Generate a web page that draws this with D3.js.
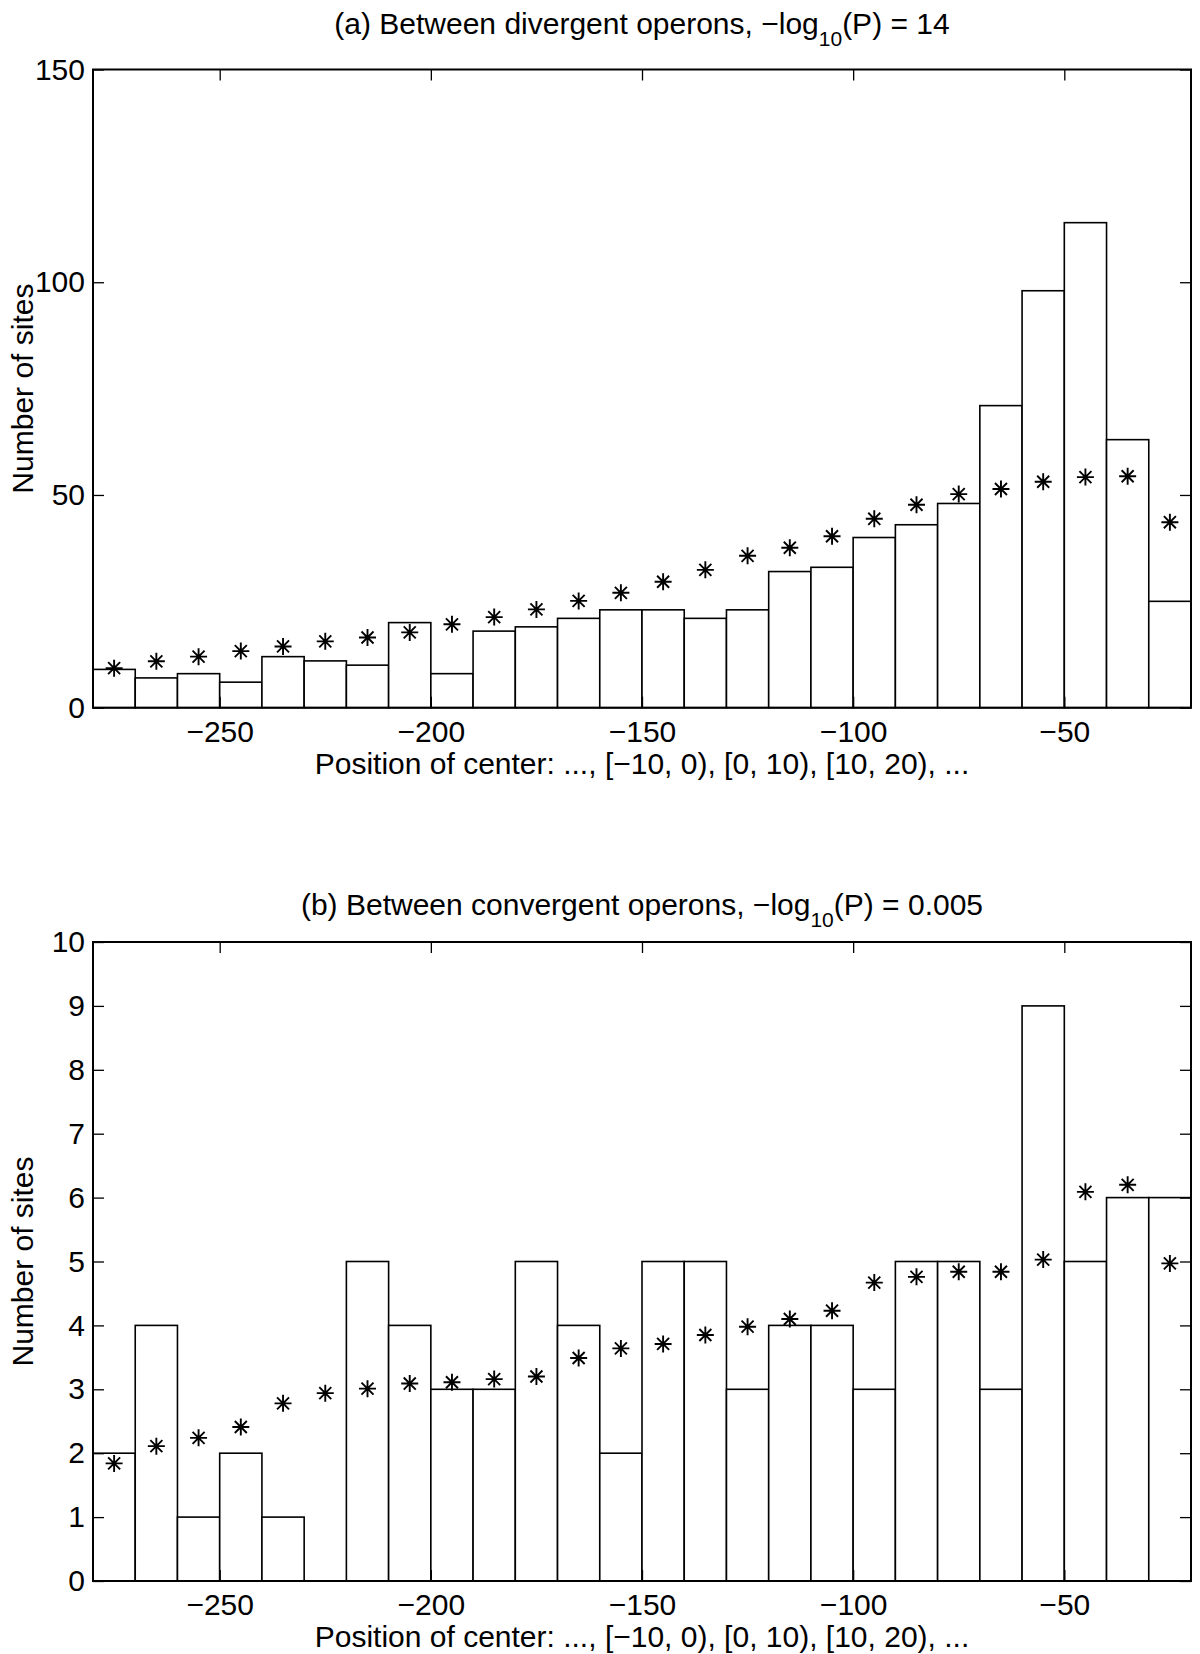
<!DOCTYPE html>
<html>
<head>
<meta charset="utf-8">
<script src="https://cdn.jsdelivr.net/npm/d3@7"></script>
<style>
  html, body { margin: 0; padding: 0; background: #fff; }
  svg { display: block; }
  text { font-family: "Liberation Sans", Arial, Helvetica, sans-serif; fill: #000; }
</style>
</head>
<body>
<svg id="chart" width="1200" height="1654"></svg>
<script>
// ---------------- data ----------------
const binStarts = [-280,-270,-260,-250,-240,-230,-220,-210,-200,-190,-180,-170,-160,-150,-140,-130,-120,-110,-100,-90,-80,-70,-60,-50,-40,-30];
const binWidth = 10;

const divergentCounts = [9,7,8,6,12,11,10,20,8,18,19,21,23,23,21,23,32,33,40,43,48,71,98,114,63,25];
const divergentExpected = [9.3,10.9,12.0,13.3,14.4,15.6,16.5,17.7,19.6,21.3,23.1,25.1,27.0,29.6,32.4,35.7,37.6,40.3,44.4,47.7,50.2,51.4,53.1,54.2,54.4,43.6];

const convergentCounts = [2,4,1,2,1,0,5,4,3,3,5,4,2,5,5,3,4,4,3,5,5,3,9,5,6,6];
const convergentExpected = [1.84,2.11,2.24,2.41,2.78,2.94,3.01,3.09,3.11,3.16,3.2,3.49,3.64,3.71,3.85,3.98,4.1,4.23,4.67,4.76,4.84,4.84,5.03,6.09,6.2,4.97];

const xTicks = [-250,-200,-150,-100,-50];
const yTicksA = [0,50,100,150];
const yTicksB = [0,1,2,3,4,5,6,7,8,9,10];

const titleA = {pre: "(a) Between divergent operons, \u2212log", sub: "10", post: "(P) = 14"};
const titleB = {pre: "(b) Between convergent operons, \u2212log", sub: "10", post: "(P) = 0.005"};
const xLabel = "Position of center: ..., [\u221210, 0), [0, 10), [10, 20), ...";
const yLabel = "Number of sites";

// ---------------- layout ----------------
const FS = 30;
const left = 93, right = 1191;
const panels = [
  {top: 69.5, bottom: 707.7, titleGap: 35.5, yMax: 150, yTicks: yTicksA, counts: divergentCounts, expected: divergentExpected, title: titleA},
  {top: 942, bottom: 1581, titleGap: 27, yMax: 10, yTicks: yTicksB, counts: convergentCounts, expected: convergentExpected, title: titleB}
];

const svg = d3.select("#chart");
const x = d3.scaleLinear().domain([-280, -20]).range([left, right]);

// asterisk marker path (MATLAB '*': + and x combined)
function starPath(r) {
  const d = r * Math.SQRT1_2;
  return `M0,${-r}L0,${r}M${-r},0L${r},0M${-d},${-d}L${d},${d}M${-d},${d}L${d},${-d}`;
}

panels.forEach(p => {
  const y = d3.scaleLinear().domain([0, p.yMax]).range([p.bottom, p.top]);
  const g = svg.append("g");

  const data = binStarts.map((s, i) => ({s, c: p.counts[i], e: p.expected[i]}));

  // bars
  g.selectAll("rect.bar").data(data).join("rect")
    .attr("class", "bar")
    .attr("x", d => x(d.s))
    .attr("width", d => x(d.s + binWidth) - x(d.s))
    .attr("y", d => y(d.c))
    .attr("height", d => y(0) - y(d.c))
    .attr("fill", "#fff")
    .attr("stroke", "#000")
    .attr("stroke-width", 1.6);

  // stars
  g.selectAll("path.star").data(data).join("path")
    .attr("class", "star")
    .attr("transform", d => `translate(${x(d.s + binWidth / 2)},${y(d.e)})`)
    .attr("d", starPath(8.5))
    .attr("fill", "none")
    .attr("stroke", "#000")
    .attr("stroke-width", 1.9);

  // axes (ticks inward, MATLAB style)
  const TL = 11;
  const bottomAxis = d3.axisBottom(x).tickValues(xTicks).tickSizeInner(-TL).tickSizeOuter(0).tickPadding(13);
  const topAxis = d3.axisTop(x).tickValues(xTicks).tickSizeInner(-TL).tickSizeOuter(0).tickFormat("");
  const leftAxis = d3.axisLeft(y).tickValues(p.yTicks).tickSizeInner(-TL).tickSizeOuter(0).tickPadding(8).tickFormat(d3.format("d"));
  const rightAxis = d3.axisRight(y).tickValues(p.yTicks).tickSizeInner(-TL).tickSizeOuter(0).tickFormat("");

  const axB = g.append("g").attr("transform", `translate(0,${p.bottom})`).call(bottomAxis);
  const axT = g.append("g").attr("transform", `translate(0,${p.top})`).call(topAxis);
  const axL = g.append("g").attr("transform", `translate(${left},0)`).call(leftAxis);
  const axR = g.append("g").attr("transform", `translate(${right},0)`).call(rightAxis);
  [axB, axT, axL, axR].forEach(a => {
    a.select(".domain").remove();
    a.selectAll("line").attr("stroke", "#000").attr("stroke-width", 1.3);
    a.selectAll("text").attr("font-size", FS).attr("font-family", "Liberation Sans, Arial, sans-serif").attr("fill", "#000");
  });

  // box
  g.append("rect")
    .attr("x", left).attr("y", p.top)
    .attr("width", right - left).attr("height", p.bottom - p.top)
    .attr("fill", "none").attr("stroke", "#000").attr("stroke-width", 2);

  // title
  const t = g.append("text")
    .attr("x", (left + right) / 2)
    .attr("y", p.top - p.titleGap)
    .attr("text-anchor", "middle")
    .attr("font-size", FS);
  t.append("tspan").text(p.title.pre);
  t.append("tspan").attr("font-size", 21).attr("dy", 12).text(p.title.sub);
  t.append("tspan").attr("dy", -12).text(p.title.post);

  // x label
  g.append("text")
    .attr("x", (left + right) / 2)
    .attr("y", p.bottom + 66)
    .attr("text-anchor", "middle")
    .attr("font-size", FS)
    .text(xLabel);

  // y label
  g.append("text")
    .attr("transform", `translate(33,${(p.top + p.bottom) / 2}) rotate(-90)`)
    .attr("text-anchor", "middle")
    .attr("font-size", FS)
    .text(yLabel);
});
</script>
</body>
</html>
